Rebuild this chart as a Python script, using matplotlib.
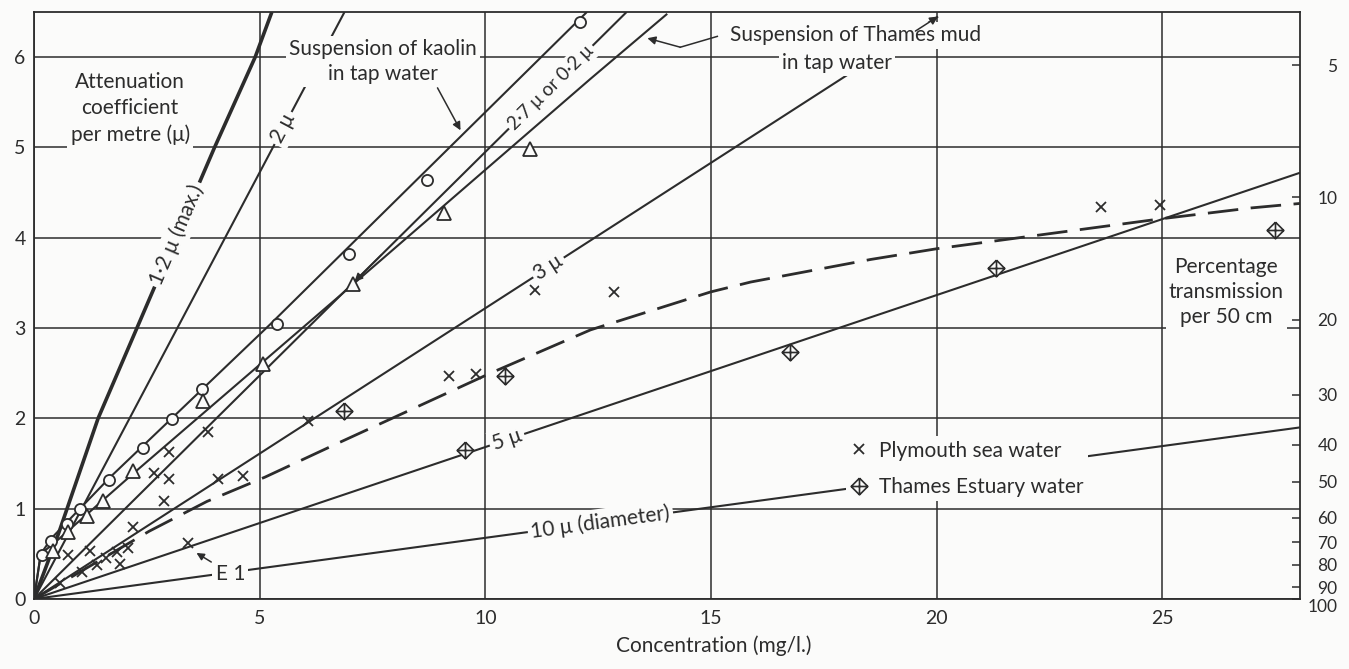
import numpy as np
import matplotlib.pyplot as plt
from matplotlib.path import Path
from matplotlib.lines import Line2D

plt.rcParams['font.family'] = ['Lato', 'DejaVu Sans']

BG = '#fbfbfa'
INK = '#2c2c2c'

# measured points: concentration (mg/l.) against attenuation coefficient per metre
kaolin_x = [0.17, 0.37, 0.73, 1.02, 1.67, 2.41, 3.05, 3.72, 5.39, 6.98, 8.71, 12.09]
kaolin_y = [0.49, 0.64, 0.83, 1.00, 1.32, 1.67, 1.99, 2.33, 3.05, 3.82, 4.64, 6.39]
mud_x = [0.41, 0.75, 1.17, 1.53, 2.20, 3.74, 5.07, 7.07, 9.09, 10.99]
mud_y = [0.53, 0.74, 0.92, 1.08, 1.42, 2.19, 2.60, 3.49, 4.27, 4.98]
plymouth_x = [0.58, 0.76, 1.06, 1.24, 1.39, 1.60, 1.83, 1.91, 2.09, 2.20, 2.66, 2.87,
              3.00, 3.00, 3.42, 3.86, 4.07, 4.64, 6.06, 9.19, 9.80, 11.11, 12.84,
              23.64, 24.95]
plymouth_y = [0.18, 0.49, 0.30, 0.53, 0.38, 0.45, 0.52, 0.39, 0.56, 0.80, 1.39, 1.09,
              1.33, 1.63, 0.62, 1.85, 1.33, 1.36, 1.97, 2.47, 2.49, 3.42, 3.40,
              4.34, 4.36]
estuary_x = [6.86, 9.56, 10.44, 16.76, 21.31, 27.49]
estuary_y = [2.08, 1.65, 2.47, 2.74, 3.67, 4.09]

# curves drawn through the measurements
kaolin_fit_x = [0, 0.15, 0.40, 1.69, 5.23, 12.25]
kaolin_fit_y = [0, 0.50, 0.68, 1.35, 3.04, 6.50]
mud_fit_x = [0, 0.15, 0.45, 2.20, 6.78, 12.33, 14.03]
mud_fit_y = [0, 0.50, 0.62, 1.39, 3.36, 5.76, 6.48]
plymouth_fit_x = [0, 2.55, 3.83, 5.12, 6.71, 10.11, 12.33, 14.99, 15.88, 18.54,
                  20.02, 24.97, 26.96, 28.05]
plymouth_fit_y = [0, 0.75, 1.08, 1.35, 1.72, 2.50, 2.98, 3.40, 3.51, 3.76,
                  3.88, 4.21, 4.33, 4.38]

# theoretical lines for particle diameters
d12_x = [0, 0.54, 1.42, 2.28, 4.00, 4.90, 5.27]
d12_y = [0, 0.72, 2.00, 3.00, 5.00, 6.00, 6.50]
d2_x, d2_y = [0, 6.88], [0, 6.50]
d27_x, d27_y = [0, 13.13], [0, 6.50]
d3_x, d3_y = [0, 20.03], [0, 6.45]
d5_x, d5_y = [0, 28.05], [0, 4.72]
d10_x, d10_y = [0, 28.05], [0, 1.90]

# right-hand scale: percentage transmission per 50 cm, at the heights
trans_pct = [5, 10, 20, 30, 40, 50, 60, 70, 80, 90, 100]
trans_mu = [5.91, 4.45, 3.09, 2.26, 1.71, 1.30, 0.90, 0.63, 0.38, 0.13, 0.0]

fig = plt.figure(figsize=(13.49, 6.69), dpi=100, facecolor=BG)
ax = fig.add_axes([34 / 1349, 70 / 669, 1266 / 1349, 587 / 669])
ax.set_facecolor(BG)
ax.set_xlim(0, 28.05)
ax.set_ylim(0, 6.5)
ax.set_xticks([0, 5, 10, 15, 20, 25])
ax.set_yticks(range(7))
ax.tick_params(length=0, labelsize=14, colors=INK)
ax.tick_params(axis='x', pad=8)
ax.tick_params(axis='y', pad=6)
ax.grid(color=INK, lw=1.1)
ax.set_axisbelow(True)
for s in ax.spines.values():
    s.set_color(INK)
    s.set_linewidth(1.3)
ax.set_xlabel('Concentration (mg/l.)', fontsize=15, color=INK, labelpad=6, x=0.537)

box = dict(boxstyle='square,pad=0.15', fc=BG, ec='none')
arrow = dict(arrowstyle='-|>', color=INK, lw=1.1, mutation_scale=12, shrinkA=0, shrinkB=0)

# lines
line_kw = dict(color=INK, lw=1.5, solid_capstyle='butt', zorder=2)
ax.plot(d12_x, d12_y, **{**line_kw, 'lw': 2.6})
ax.plot(d2_x, d2_y, **line_kw)
ax.plot(d27_x, d27_y, **line_kw)
ax.plot(d3_x, d3_y, **line_kw)
ax.plot(d5_x, d5_y, **line_kw)
ax.plot(d10_x, d10_y, **line_kw)
ax.plot(kaolin_fit_x, kaolin_fit_y, **line_kw)
ax.plot(mud_fit_x, mud_fit_y, **line_kw)
ax.plot(plymouth_fit_x, plymouth_fit_y, color=INK, lw=2.0, dashes=(11, 4.5), zorder=2)

# 3 micron line runs off the top: arrow head at its end
ax.annotate('', xy=(d3_x[1], d3_y[1]), xytext=(d3_x[1] * 0.975, d3_y[1] * 0.975),
            arrowprops=arrow, zorder=6)
# 2.7 micron line: arrow head where it meets the Thames mud triangle
ax.annotate('', xy=(7.1, np.interp(7.1, d27_x, d27_y)),
            xytext=(7.7, np.interp(7.7, d27_x, d27_y)), arrowprops=arrow, zorder=3)

# markers
diamond_plus = Path(
    [(0, 1), (1, 0), (0, -1), (-1, 0), (0, 1), (0, 1), (0, -1), (-1, 0), (1, 0)],
    [Path.MOVETO, Path.LINETO, Path.LINETO, Path.LINETO, Path.LINETO,
     Path.MOVETO, Path.LINETO, Path.MOVETO, Path.LINETO])
ax.plot(kaolin_x, kaolin_y, ls='none', marker='o', ms=8, mfc=BG, mec=INK, mew=1.3, zorder=4)
ax.plot(mud_x, mud_y, ls='none', marker='^', ms=10, mfc=BG, mec=INK, mew=1.3, zorder=4)
ax.plot(plymouth_x, plymouth_y, ls='none', marker='x', ms=7, mec=INK, mew=1.3, zorder=4)
ax.plot(estuary_x, estuary_y, ls='none', marker=diamond_plus, ms=12, mfc=BG, mec=INK,
        mew=1.2, zorder=4)


def line_label(text, x, xs, ys, size=15):
    xs, ys = np.asarray(xs, float), np.asarray(ys, float)
    y = np.interp(x, xs, ys)
    i = min(max(int(np.searchsorted(xs, x)), 1), len(xs) - 1)
    ang = np.degrees(np.arctan2(ys[i] - ys[i - 1], xs[i] - xs[i - 1]))
    ax.text(x, y, text, rotation=ang, transform_rotates_text=True, rotation_mode='anchor',
            ha='center', va='center', fontsize=size, color=INK, bbox=box, zorder=5)


line_label('1·2 μ (max.)', 3.17, d12_x, d12_y)
line_label('2 μ', 5.52, d2_x, d2_y)
line_label('2·7 μ or 0·2 μ', 11.45, d27_x, d27_y, size=13.5)
line_label('3 μ', 11.4, d3_x, d3_y)
line_label('5 μ', 10.48, d5_x, d5_y)
line_label('10 μ (diameter)', 12.55, d10_x, d10_y)

txt = dict(fontsize=15, color=INK, ha='center', va='center', bbox=box, zorder=5)
ax.text(2.13, 5.43, 'Attenuation\ncoefficient\nper metre (μ)', linespacing=1.4, **txt)
ax.text(7.74, 5.95, 'Suspension of kaolin\nin tap water', linespacing=1.32, **txt)
ax.annotate('', xy=(9.45, 5.19), xytext=(8.94, 5.66), arrowprops=arrow, zorder=5)
ax.text(18.2, 6.24, 'Suspension of Thames mud', **txt)
ax.text(17.8, 5.94, 'in tap water', **txt)
ax.plot([15.14, 14.32], [6.23, 6.11], color=INK, lw=1.1, zorder=5)
ax.annotate('', xy=(13.59, 6.21), xytext=(14.32, 6.11), arrowprops=arrow, zorder=5)
ax.text(26.42, 3.40, 'Percentage\ntransmission\nper 50 cm', linespacing=1.32, **txt)
ax.annotate('E 1', xy=(3.6, 0.51), xytext=(4.35, 0.28), fontsize=15, color=INK,
            ha='center', va='center', bbox=box, zorder=5,
            arrowprops={**arrow, 'mutation_scale': 11, 'shrinkA': 1})

handles = [Line2D([], [], ls='none', marker='x', ms=7, mew=1.3, color=INK),
           Line2D([], [], ls='none', marker=diamond_plus, ms=12, mfc=BG, mec=INK, mew=1.2)]
leg = ax.legend(handles, ['Plymouth sea water', 'Thames Estuary water'], loc='upper left',
                bbox_to_anchor=(17.98, 1.80), bbox_transform=ax.transData, frameon=True,
                facecolor=BG, edgecolor='none', framealpha=1, fontsize=15,
                handlelength=0.9, handletextpad=0.5, labelspacing=0.8, borderpad=0.2,
                borderaxespad=0)
for t in leg.get_texts():
    t.set_color(INK)
leg.set_zorder(5)

# right axis: percentage transmission per 50 cm
ax2 = ax.twinx()
ax2.set_ylim(ax.get_ylim())
ax2.set_yticks(trans_mu, labels=[str(t) for t in trans_pct], ha='right')
ax2.tick_params(direction='in', length=6, width=1.1, colors=INK, labelsize=12.5, pad=27)
ax2.get_yticklabels()[-1].set_va('top')
for s in ax2.spines.values():
    s.set_visible(False)

fig.savefig('out.png', dpi=100, facecolor=BG)
